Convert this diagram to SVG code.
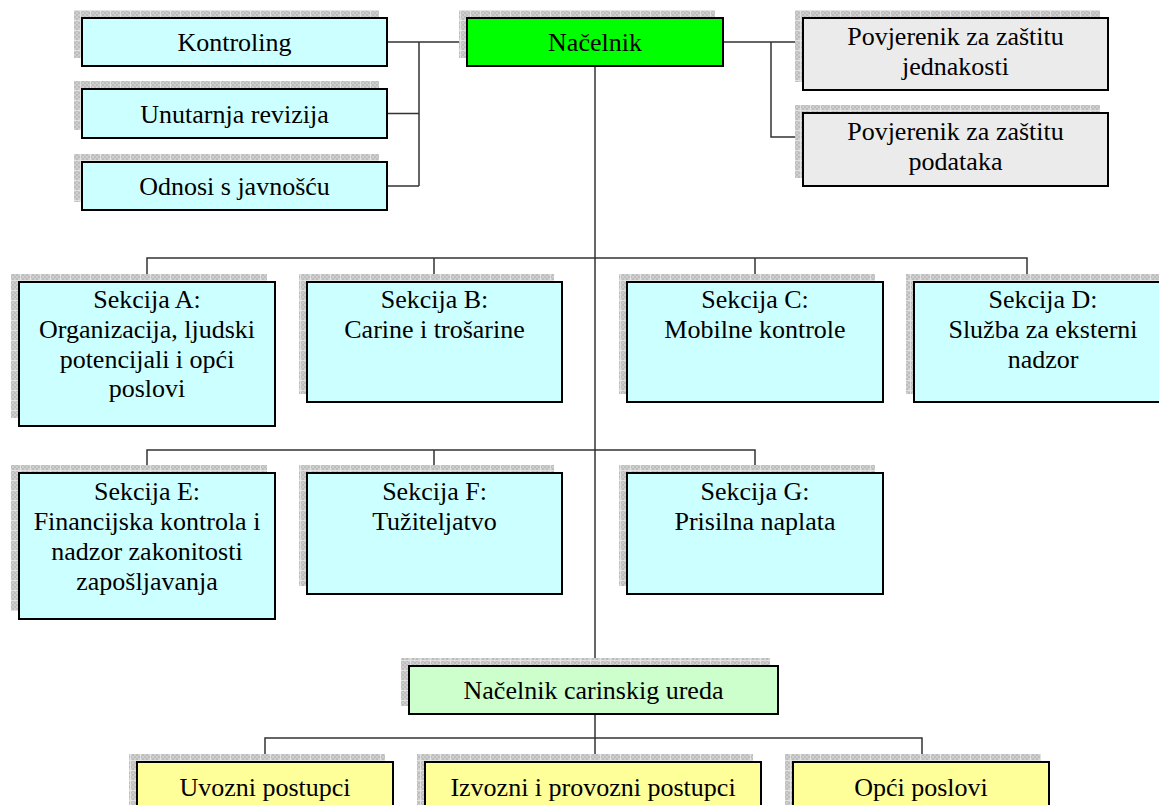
<svg xmlns="http://www.w3.org/2000/svg" width="1159" height="805" viewBox="0 0 1159 805">
<defs>
<pattern id="hatch" width="10" height="10" patternUnits="userSpaceOnUse">
<rect width="10" height="10" fill="#bdbdbd"/>
<path d="M0 0h2v2H0zM2 2h2v2H2zM4 0h2v2H4zM6 2h2v2H6zM8 0h2v2H8zM0 4h2v2H0zM4 4h2v2H4zM8 4h2v2H8zM2 6h2v2H2zM6 6h2v2H6zM0 8h2v2H0zM4 8h2v2H4zM8 8h2v2H8z" fill="#cfcfcf"/>
<path d="M0 0.5H10M0.5 0V10" stroke="#e2e2e2" stroke-width="1"/>
</pattern>
</defs>
<style>
.sh{fill:url(#hatch)}
.bx{stroke:#000;stroke-width:2}
.cy{fill:#ccffff}
.gr{fill:#00ff00}
.lg{fill:#ccffcc}
.ye{fill:#ffff99}
.gy{fill:#ebebeb}
text{font-family:"Liberation Serif","Times New Roman",serif;font-size:26px;fill:#000;text-anchor:middle}
.cn{fill:none;stroke:#333;stroke-width:1.5}
</style>
<rect width="1159" height="805" fill="#fff"/>
<g id="connectors" class="cn">
<path d="M387 42H467M419 42V186M387 113.5H419M387 186H419"/>
<path d="M723 42H803M771 42V137H803"/>
<path d="M595 66V666"/>
<path d="M147 282V258H1027V282M434 258V282M755 258V282"/>
<path d="M147 473V450H755V473M434 450V473"/>
<path d="M595 714V762M265 762V738H922V762"/>
</g>
<g id="kontroling"><rect class="sh" x="74" y="10" width="305" height="48"/><rect class="bx cy" x="82" y="18" width="305" height="48"/><text x="234.5" y="51">Kontroling</text></g>
<g id="unutarnja-revizija"><rect class="sh" x="74" y="81" width="305" height="49"/><rect class="bx cy" x="82" y="89" width="305" height="49"/><text x="234.5" y="123">Unutarnja revizija</text></g>
<g id="odnosi"><rect class="sh" x="74" y="154" width="305" height="48"/><rect class="bx cy" x="82" y="162" width="305" height="48"/><text x="234.5" y="195">Odnosi s javnošću</text></g>
<g id="nacelnik"><rect class="sh" x="459" y="10" width="256" height="48"/><rect class="bx gr" x="467" y="18" width="256" height="48"/><text x="595" y="51">Načelnik</text></g>
<g id="povjerenik-jednakosti"><rect class="sh" x="795" y="10" width="305" height="72"/><rect class="bx gy" x="803" y="18" width="305" height="72"/><text x="955.5" y="45">Povjerenik za zaštitu</text><text x="955.5" y="75">jednakosti</text></g>
<g id="povjerenik-podataka"><rect class="sh" x="795" y="105" width="305" height="73"/><rect class="bx gy" x="803" y="113" width="305" height="73"/><text x="955.5" y="140">Povjerenik za zaštitu</text><text x="955.5" y="170">podataka</text></g>
<g id="sekcija-a"><rect class="sh" x="11" y="274" width="256" height="144"/><rect class="bx cy" x="19" y="282" width="256" height="144"/><text x="147" y="308">Sekcija A:</text><text x="147" y="338">Organizacija, ljudski</text><text x="147" y="367.5">potencijali i opći</text><text x="147" y="397">poslovi</text></g>
<g id="sekcija-b"><rect class="sh" x="299" y="274" width="255" height="120"/><rect class="bx cy" x="307" y="282" width="255" height="120"/><text x="434.5" y="308">Sekcija B:</text><text x="434.5" y="338">Carine i trošarine</text></g>
<g id="sekcija-c"><rect class="sh" x="619" y="274" width="256" height="120"/><rect class="bx cy" x="627" y="282" width="256" height="120"/><text x="755" y="308">Sekcija C:</text><text x="755" y="338">Mobilne kontrole</text></g>
<g id="sekcija-d"><rect class="sh" x="906" y="274" width="258" height="120"/><rect class="bx cy" x="914" y="282" width="258" height="120"/><text x="1043" y="308">Sekcija D:</text><text x="1043" y="338">Služba za eksterni</text><text x="1043" y="367.5">nadzor</text></g>
<g id="sekcija-e"><rect class="sh" x="11" y="465" width="256" height="146"/><rect class="bx cy" x="19" y="473" width="256" height="146"/><text x="147" y="500">Sekcija E:</text><text x="147" y="530">Financijska kontrola i</text><text x="147" y="560">nadzor zakonitosti</text><text x="147" y="590">zapošljavanja</text></g>
<g id="sekcija-f"><rect class="sh" x="299" y="465" width="255" height="121"/><rect class="bx cy" x="307" y="473" width="255" height="121"/><text x="434.5" y="500">Sekcija F:</text><text x="434.5" y="530">Tužiteljatvo</text></g>
<g id="sekcija-g"><rect class="sh" x="619" y="465" width="256" height="121"/><rect class="bx cy" x="627" y="473" width="256" height="121"/><text x="755" y="500">Sekcija G:</text><text x="755" y="530">Prisilna naplata</text></g>
<g id="nacelnik-carinskog-ureda"><rect class="sh" x="401" y="658" width="369" height="48"/><rect class="bx lg" x="409" y="666" width="369" height="48"/><text x="593.5" y="699">Načelnik carinskig ureda</text></g>
<g id="uvozni"><rect class="sh" x="129" y="754" width="256" height="60"/><rect class="bx ye" x="137" y="762" width="256" height="60"/><text x="265" y="796">Uvozni postupci</text></g>
<g id="izvozni"><rect class="sh" x="417" y="754" width="336" height="60"/><rect class="bx ye" x="425" y="762" width="336" height="60"/><text x="593" y="796">Izvozni i provozni postupci</text></g>
<g id="opci"><rect class="sh" x="785" y="754" width="256" height="60"/><rect class="bx ye" x="793" y="762" width="256" height="60"/><text x="921" y="796">Opći poslovi</text></g>
</svg>
